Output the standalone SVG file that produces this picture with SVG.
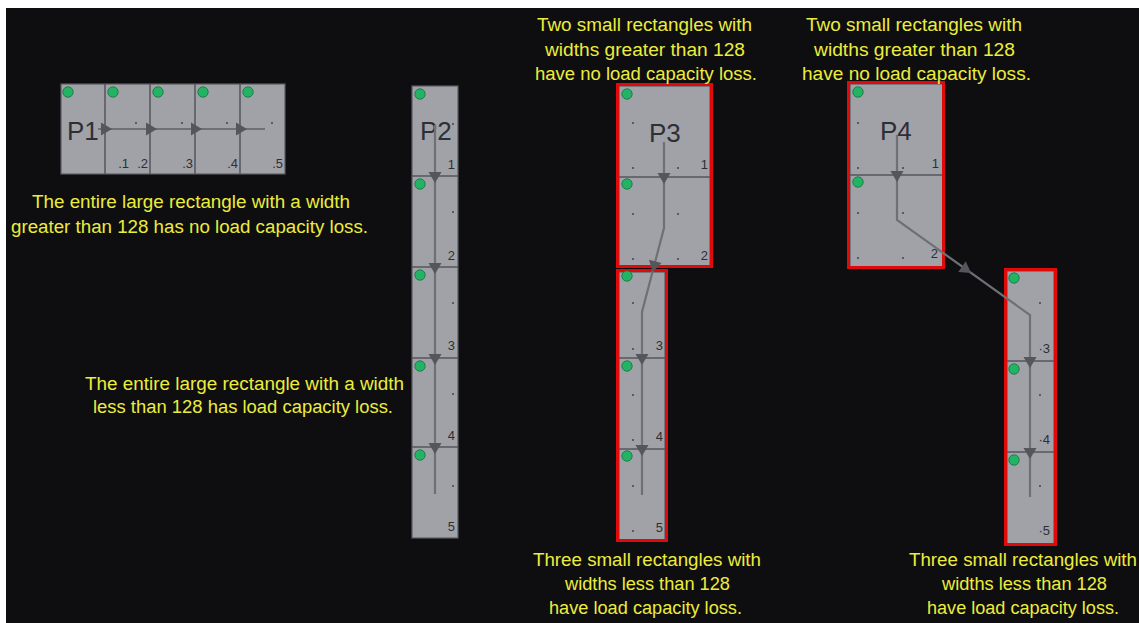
<svg xmlns="http://www.w3.org/2000/svg" width="1139" height="623" viewBox="0 0 1139 623">
<style>
.bg{fill:#0e0e10}
.cell{fill:#a1a2a8;stroke:#5c5c62;stroke-width:1.2}
.div{stroke:#55565c;stroke-width:1.5}
.red{fill:none;stroke:#e00a0a;stroke-width:3}
.flow{fill:none;stroke:#6f7075;stroke-width:2.2}
.ah{fill:#55565b}
.gd{fill:#22b464;stroke:#17703e;stroke-width:0.8}
.dt{fill:#3a3a40}
.pl{font-family:"Liberation Sans",Arial,sans-serif;font-size:26px;fill:#2e2f36}
.nl{font-family:"Liberation Sans",Arial,sans-serif;font-size:13px;fill:#2e2f36;text-anchor:end}
.note{font-family:"Liberation Sans",Arial,sans-serif;font-size:18px;fill:#ecec3c;text-anchor:middle}
</style>
<defs>
<path id="ah" d="M0,0 L-6.5,-11 L6.5,-11 Z"/>
<circle id="g" r="5.2"/>
<circle id="d" r="0.9"/>
</defs>
<rect width="1139" height="623" fill="#ffffff"/>
<rect class="bg" x="6" y="8" width="1133" height="615"/>

<g id="P1">
<rect class="cell" x="61" y="84" width="224" height="90"/>
<line class="div" x1="105" y1="84" x2="105" y2="174"/>
<line class="div" x1="150" y1="84" x2="150" y2="174"/>
<line class="div" x1="195" y1="84" x2="195" y2="174"/>
<line class="div" x1="240" y1="84" x2="240" y2="174"/>
<g class="gd"><use href="#g" x="68" y="92"/><use href="#g" x="113" y="92"/><use href="#g" x="158" y="92"/><use href="#g" x="203" y="92"/><use href="#g" x="248" y="92"/></g>
<g class="dt"><use href="#d" x="136" y="123"/><use href="#d" x="182" y="123"/><use href="#d" x="227" y="123"/><use href="#d" x="272" y="123"/></g>
<text class="pl" x="67" y="140">P1</text>
<text class="nl" x="129" y="168">.1</text>
<text class="nl" x="148" y="168">.2</text>
<text class="nl" x="193" y="168">.3</text>
<text class="nl" x="238" y="168">.4</text>
<text class="nl" x="283" y="168">.5</text>
</g>

<g id="P2">
<rect class="cell" x="412" y="86" width="46" height="452"/>
<line class="div" x1="412" y1="176" x2="458" y2="176"/>
<line class="div" x1="412" y1="267" x2="458" y2="267"/>
<line class="div" x1="412" y1="358" x2="458" y2="358"/>
<line class="div" x1="412" y1="447" x2="458" y2="447"/>
<g class="gd"><use href="#g" x="420" y="94"/><use href="#g" x="420" y="184"/><use href="#g" x="420" y="275"/><use href="#g" x="420" y="366"/><use href="#g" x="420" y="455"/></g>
<g class="dt"><use href="#d" x="453" y="124"/><use href="#d" x="453" y="212"/><use href="#d" x="453" y="303"/><use href="#d" x="453" y="394"/><use href="#d" x="453" y="486"/></g>
<text class="pl" x="420" y="140">P2</text>
<text class="nl" x="455" y="169">1</text>
<text class="nl" x="455" y="260">2</text>
<text class="nl" x="455" y="350">3</text>
<text class="nl" x="455" y="440">4</text>
<text class="nl" x="455" y="531">5</text>
</g>

<g id="P3">
<rect class="cell" x="619" y="86" width="91" height="180"/>
<line class="div" x1="619" y1="177" x2="710" y2="177"/>
<rect class="cell" x="619" y="272" width="46" height="268"/>
<line class="div" x1="619" y1="358" x2="665" y2="358"/>
<line class="div" x1="619" y1="449" x2="665" y2="449"/>
<rect class="red" x="617.5" y="84.5" width="94" height="182"/>
<rect class="red" x="617.5" y="270.5" width="49" height="270"/>
<g class="gd"><use href="#g" x="627" y="94"/><use href="#g" x="627" y="184"/><use href="#g" x="627" y="276"/><use href="#g" x="627" y="366"/><use href="#g" x="627" y="456"/></g>
<g class="dt"><use href="#d" x="633" y="123"/><use href="#d" x="633" y="168"/><use href="#d" x="678" y="168"/><use href="#d" x="633" y="214"/><use href="#d" x="678" y="214"/><use href="#d" x="633" y="259"/><use href="#d" x="678" y="259"/>
<use href="#d" x="633" y="303"/><use href="#d" x="633" y="349"/><use href="#d" x="633" y="395"/><use href="#d" x="633" y="440"/><use href="#d" x="633" y="486"/><use href="#d" x="633" y="531"/></g>
<text class="pl" x="649" y="142">P3</text>
<text class="nl" x="708" y="169">1</text>
<text class="nl" x="708" y="260">2</text>
<text class="nl" x="663" y="350">3</text>
<text class="nl" x="663" y="441">4</text>
<text class="nl" x="663" y="532">5</text>
</g>

<g id="P4">
<rect class="cell" x="850" y="84" width="93" height="183"/>
<line class="div" x1="850" y1="175" x2="943" y2="175"/>
<rect class="cell" x="1007" y="271" width="47" height="273"/>
<line class="div" x1="1007" y1="361" x2="1054" y2="361"/>
<line class="div" x1="1007" y1="452" x2="1054" y2="452"/>
<rect class="red" x="848.5" y="82.5" width="95" height="185"/>
<rect class="red" x="1005.5" y="269.5" width="50" height="275"/>
<g class="gd"><use href="#g" x="858" y="92"/><use href="#g" x="858" y="182"/><use href="#g" x="1014" y="278"/><use href="#g" x="1014" y="369"/><use href="#g" x="1014" y="460"/></g>
<g class="dt"><use href="#d" x="858" y="123"/><use href="#d" x="858" y="168"/><use href="#d" x="903" y="168"/><use href="#d" x="858" y="213"/><use href="#d" x="903" y="213"/><use href="#d" x="858" y="258"/><use href="#d" x="903" y="258"/>
<use href="#d" x="1040" y="303"/><use href="#d" x="1040" y="395"/><use href="#d" x="1040" y="486"/></g>
<text class="pl" x="880" y="140">P4</text>
<text class="nl" x="939" y="168">1</text>
<text class="nl" x="938" y="258">2</text>
<text class="nl" x="1050" y="353">·3</text>
<text class="nl" x="1050" y="444">·4</text>
<text class="nl" x="1050" y="535">·5</text>
</g>

<g id="connectors">
<path class="flow" d="M98,129 H265"/>
<path class="flow" d="M435,125 V494"/>
<path class="flow" d="M664,142 V228 L642,312 V495"/>
<path class="flow" d="M897,135 V220 L1030,315 V497"/>
<g class="ah">
<use href="#ah" transform="translate(112,129) rotate(-90)"/>
<use href="#ah" transform="translate(157,129) rotate(-90)"/>
<use href="#ah" transform="translate(202,129) rotate(-90)"/>
<use href="#ah" transform="translate(247,129) rotate(-90)"/>
<use href="#ah" transform="translate(435,183)"/>
<use href="#ah" transform="translate(435,274)"/>
<use href="#ah" transform="translate(435,365)"/>
<use href="#ah" transform="translate(435,454)"/>
<use href="#ah" transform="translate(664,184)"/>
<use href="#ah" transform="translate(652.5,272) rotate(14.7)"/>
<use href="#ah" transform="translate(642,365)"/>
<use href="#ah" transform="translate(642,456)"/>
<use href="#ah" transform="translate(897,182)"/>
<use href="#ah" transform="translate(971,273) rotate(-54.5)"/>
<use href="#ah" transform="translate(1030,368)"/>
<use href="#ah" transform="translate(1030,459)"/>
</g>
</g>

<g id="notes">
<text class="note" x="191" y="208" textLength="318" lengthAdjust="spacingAndGlyphs">The entire large rectangle with a width</text>
<text class="note" x="189.5" y="233" textLength="357" lengthAdjust="spacingAndGlyphs">greater than 128 has no load capacity loss.</text>
<text class="note" x="244.5" y="390" textLength="319" lengthAdjust="spacingAndGlyphs">The entire large rectangle with a width</text>
<text class="note" x="243" y="413" textLength="300" lengthAdjust="spacingAndGlyphs">less than 128 has load capacity loss.</text>
<text class="note" x="644.5" y="31" textLength="215" lengthAdjust="spacingAndGlyphs">Two small rectangles with</text>
<text class="note" x="645" y="56" textLength="200" lengthAdjust="spacingAndGlyphs">widths greater than 128</text>
<text class="note" x="646" y="80" textLength="222" lengthAdjust="spacingAndGlyphs">have no load capacity loss.</text>
<text class="note" x="914" y="31" textLength="216" lengthAdjust="spacingAndGlyphs">Two small rectangles with</text>
<text class="note" x="914.5" y="56" textLength="201" lengthAdjust="spacingAndGlyphs">widths greater than 128</text>
<text class="note" x="916.5" y="80" textLength="229" lengthAdjust="spacingAndGlyphs">have no load capacity loss.</text>
<text class="note" x="647" y="566" textLength="228" lengthAdjust="spacingAndGlyphs">Three small rectangles with</text>
<text class="note" x="647.5" y="590" textLength="165" lengthAdjust="spacingAndGlyphs">widths less than 128</text>
<text class="note" x="645.5" y="614" textLength="193" lengthAdjust="spacingAndGlyphs">have load capacity loss.</text>
<text class="note" x="1023" y="566" textLength="228" lengthAdjust="spacingAndGlyphs">Three small rectangles with</text>
<text class="note" x="1024.5" y="590" textLength="165" lengthAdjust="spacingAndGlyphs">widths less than 128</text>
<text class="note" x="1023" y="614" textLength="192" lengthAdjust="spacingAndGlyphs">have load capacity loss.</text>
</g>
</svg>
